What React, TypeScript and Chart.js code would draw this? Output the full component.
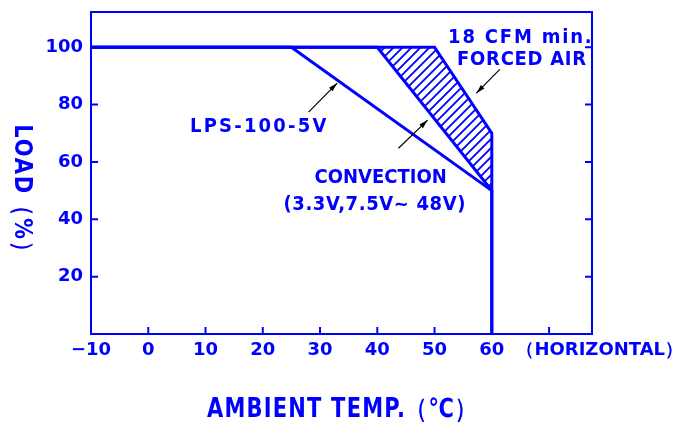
import React, { useEffect, useRef } from 'react';
import { Chart, registerables } from 'chart.js';
Chart.register(...registerables);

// ---- data ----
const xTickValues = [-10, 0, 10, 20, 30, 40, 50, 60];
const xTickLabels = ['−10', '0', '10', '20', '30', '40', '50', '60'];
const xInnerTicks = [0, 10, 20, 30, 40, 50, 60, 70];
const yTickValues = [20, 40, 60, 80, 100];
const yTickLabels = ['20', '40', '60', '80', '100'];

const forcedAirTemp = [-10, 50, 60, 60];
const forcedAirLoad = [100, 100, 70, 0];
const convectionTemp = [-10, 40, 60, 60];
const convectionLoad = [100, 100, 50, 0];
const lps5vTemp = [-10, 25, 60];
const lps5vLoad = [100, 100, 50];
const hatchTemp = [40, 50, 60, 60, 40];
const hatchLoad = [100, 100, 70, 50, 100];

const xTitle = 'AMBIENT TEMP.（℃）';
const xNote = '（HORIZONTAL）';
const yTitle = 'LOAD（%）';

// annotation texts (positions in data units)
const noteTexts = ['LPS-100-5V', 'CONVECTION', '(3.3V,7.5V~ 48V)', '18 CFM min.', 'FORCED AIR'];
const notePos = [
  { x: 19.2, y: 72.3 },
  { x: 40.6, y: 54.4 },
  { x: 39.5, y: 45.0 },
  { x: 64.9, y: 103.3 },
  { x: 65.2, y: 95.6 },
];
const noteSpacing = [2.2, 0, 0.6, 1.8, 0.7];
// arrows: tail -> tip (data units)
const arrowPos = [
  { x1: 28.0, y1: 77.4, x2: 33.0, y2: 87.5 },
  { x1: 43.7, y1: 64.8, x2: 48.8, y2: 74.6 },
  { x1: 61.4, y1: 92.3, x2: 57.3, y2: 84.0 },
];

const BLUE = '#0000ff';
const FONT = '"DejaVu Sans", sans-serif';

const toPts = (xs: number[], ys: number[]) => xs.map((x, i) => ({ x, y: ys[i] }));

function makeHatch(): CanvasPattern | string {
  const c = document.createElement('canvas');
  const s = 9;
  c.width = s;
  c.height = s;
  const g = c.getContext('2d');
  if (!g) return 'rgba(0,0,255,0.3)';
  g.strokeStyle = BLUE;
  g.lineWidth = 1.8;
  g.beginPath();
  g.moveTo(-1, s + 1);
  g.lineTo(s + 1, -1);
  g.moveTo(-2, 2);
  g.lineTo(2, -2);
  g.moveTo(s - 2, s + 2);
  g.lineTo(s + 2, s - 2);
  g.stroke();
  const p = g.createPattern(c, 'repeat');
  return p || 'rgba(0,0,255,0.3)';
}

function drawText(
  ctx: CanvasRenderingContext2D,
  text: string,
  x: number,
  y: number,
  size: number,
  spacing: number,
  sy: number,
  align: CanvasTextAlign,
  rot = 0
) {
  ctx.save();
  ctx.translate(x, y);
  if (rot) ctx.rotate(rot);
  ctx.scale(1, sy);
  ctx.font = `bold ${size}px ${FONT}`;
  (ctx as any).letterSpacing = `${spacing}px`;
  ctx.textAlign = align;
  ctx.textBaseline = 'middle';
  const off = align === 'center' ? spacing / 2 : 0;
  ctx.fillText(text, off, 0);
  ctx.restore();
}

const decorPlugin = {
  id: 'decor',
  afterDatasetsDraw(chart: any) {
    const { ctx, chartArea, scales } = chart;
    const xs = scales.x;
    const ys = scales.y;
    const { left, right, top, bottom } = chartArea;
    ctx.save();
    // frame
    ctx.strokeStyle = BLUE;
    ctx.lineWidth = 2;
    ctx.strokeRect(left, top, right - left, bottom - top);
    // inward ticks
    ctx.beginPath();
    xInnerTicks.forEach((v) => {
      const px = xs.getPixelForValue(v);
      ctx.moveTo(px, bottom);
      ctx.lineTo(px, bottom - 7);
    });
    yTickValues.forEach((v) => {
      const py = ys.getPixelForValue(v);
      ctx.moveTo(left, py);
      ctx.lineTo(left + 7, py);
      ctx.moveTo(right, py);
      ctx.lineTo(right - 7, py);
    });
    ctx.stroke();

    ctx.fillStyle = BLUE;
    // y tick labels
    yTickValues.forEach((v, i) => {
      drawText(ctx, yTickLabels[i], left - 8, ys.getPixelForValue(v), 18, 0, 1, 'right');
    });
    // x tick labels
    xTickValues.forEach((v, i) => {
      drawText(ctx, xTickLabels[i], xs.getPixelForValue(v), bottom + 16, 18, 0, 1, 'center');
    });
    drawText(ctx, xNote, xs.getPixelForValue(64.3), bottom + 16, 18, 0, 1, 'left');

    // titles
    drawText(ctx, xTitle, (left + right) / 2, bottom + 76, 21, 1.2, 1.25, 'center');
    drawText(ctx, yTitle, 22, (top + bottom) / 2 + 20, 21, 1.8, 1.2, 'center', Math.PI / 2);

    // notes
    noteTexts.forEach((t, i) => {
      drawText(ctx, t, xs.getPixelForValue(notePos[i].x), ys.getPixelForValue(notePos[i].y), 18, noteSpacing[i], 1.05, 'center');
    });

    // arrows
    ctx.strokeStyle = '#000';
    ctx.fillStyle = '#000';
    ctx.lineWidth = 1.2;
    arrowPos.forEach((a) => {
      const x1 = xs.getPixelForValue(a.x1);
      const y1 = ys.getPixelForValue(a.y1);
      const x2 = xs.getPixelForValue(a.x2);
      const y2 = ys.getPixelForValue(a.y2);
      const ang = Math.atan2(y2 - y1, x2 - x1);
      ctx.beginPath();
      ctx.moveTo(x1, y1);
      ctx.lineTo(x2, y2);
      ctx.stroke();
      const L = 9;
      const W = 2.5;
      ctx.beginPath();
      ctx.moveTo(x2, y2);
      ctx.lineTo(x2 - L * Math.cos(ang) + W * Math.sin(ang), y2 - L * Math.sin(ang) - W * Math.cos(ang));
      ctx.lineTo(x2 - L * Math.cos(ang) - W * Math.sin(ang), y2 - L * Math.sin(ang) + W * Math.cos(ang));
      ctx.closePath();
      ctx.fill();
    });
    ctx.restore();
  },
};

export default function App() {
  const ref = useRef<HTMLCanvasElement | null>(null);
  useEffect(() => {
    if (!ref.current) return;
    const hatch = makeHatch();
    const common = {
      borderColor: BLUE,
      pointRadius: 0,
      tension: 0,
      fill: false,
    };
    const chart = new Chart(ref.current, {
      type: 'line',
      data: {
        datasets: [
          {
            ...common,
            label: 'hatch',
            data: toPts(hatchTemp, hatchLoad),
            borderWidth: 0,
            borderColor: 'rgba(0,0,0,0)',
            backgroundColor: hatch as any,
            fill: 'shape',
          },
          { ...common, label: 'forced', data: toPts(forcedAirTemp, forcedAirLoad), borderWidth: 3 },
          { ...common, label: 'convection', data: toPts(convectionTemp, convectionLoad), borderWidth: 3 },
          { ...common, label: 'lps5v', data: toPts(lps5vTemp, lps5vLoad), borderWidth: 3 },
        ],
      },
      options: {
        animation: false,
        responsive: false,
        layout: { padding: { left: 91, right: 83, top: 12, bottom: 92 } },
        plugins: { legend: { display: false }, tooltip: { enabled: false } },
        scales: {
          x: { type: 'linear', min: -10, max: 77.5, display: false },
          y: { type: 'linear', min: 0, max: 112.3, display: false },
        },
      },
      plugins: [decorPlugin],
    });
    return () => chart.destroy();
  }, []);
  return (
    <div style={{ position: 'fixed', left: 0, top: 0, width: 675, height: 426, background: '#fff' }}>
      <canvas ref={ref} width={675} height={426} style={{ width: 675, height: 426 }} />
    </div>
  );
}
